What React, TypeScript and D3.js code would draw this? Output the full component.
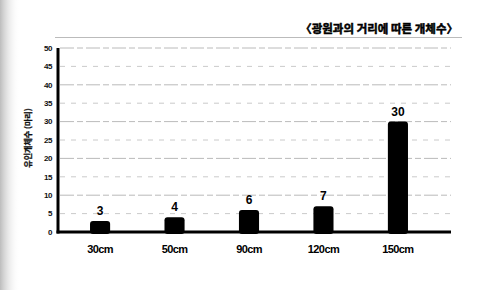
import * as d3 from "d3";

const CATEGORIES = ["30cm", "50cm", "90cm", "120cm", "150cm"];
const COUNTS = [3, 4, 6, 7, 30];
const Y_TICKS = [0, 5, 10, 15, 20, 25, 30, 35, 40, 45, 50];
const TITLE = "〈광원과의 거리에 따른 개체수〉";
const Y_LABEL = "유인개체수 (마리)";

const WIDTH = 502;
const HEIGHT = 290;
const MARGIN = { top: 48, right: 51, bottom: 58, left: 58 };

const FONT = "'Liberation Sans', Arial, sans-serif";

export default function App() {
  const boundsWidth = WIDTH - MARGIN.left - MARGIN.right;
  const boundsHeight = HEIGHT - MARGIN.top - MARGIN.bottom;

  // bars end a bit before the axis does
  const xScale = d3
    .scaleBand<string>()
    .domain(CATEGORIES)
    .range([0, 382])
    .paddingInner(0.73)
    .paddingOuter(0.43);

  const yScale = d3.scaleLinear().domain([0, 50]).range([boundsHeight, 0]);

  return (
    <svg
      width={WIDTH}
      height={HEIGHT}
      style={{ position: "absolute", left: 0, top: 0, background: "#fff" }}
    >
      <defs>
        <linearGradient id="edge" x1="0" x2="1">
          <stop offset="0" stopColor="#a0a0a0" stopOpacity={0.7} />
          <stop offset="1" stopColor="#ffffff" stopOpacity={0} />
        </linearGradient>
      </defs>
      <rect x={0} y={0} width={20} height={HEIGHT} fill="url(#edge)" />

      {/* title, stroked a little since the CJK font has no heavy face here */}
      <text
        x={458}
        y={33}
        textAnchor="end"
        fontFamily="'Noto Sans CJK KR', sans-serif"
        fontWeight={700}
        fontSize={11.5}
        fill="#000"
        stroke="#000"
        strokeWidth={0.5}
      >
        {TITLE}
      </text>
      <line x1={55} x2={462} y1={37.5} y2={37.5} stroke="#aaa" strokeWidth={0.8} />

      {/* y label */}
      <text
        transform="translate(31, 138) rotate(-90)"
        textAnchor="middle"
        fontFamily="'Noto Sans CJK KR', sans-serif"
        fontWeight={700}
        fontSize={8}
        fill="#111"
        stroke="#111"
        strokeWidth={0.3}
      >
        {Y_LABEL}
      </text>

      <g transform={`translate(${MARGIN.left}, ${MARGIN.top})`}>
        {/* grid */}
        {Y_TICKS.filter((t) => t > 0).map((t) => (
          <line
            key={t}
            x1={2}
            x2={boundsWidth}
            y1={yScale(t)}
            y2={yScale(t)}
            stroke={t % 10 === 0 ? "#a8a8a8" : "#bdbdbd"}
            strokeWidth={0.8}
            strokeDasharray={t % 10 === 0 ? "14 3 6 3" : "5 6"}
          />
        ))}

        {/* y tick labels */}
        {Y_TICKS.map((t) => (
          <text
            key={t}
            x={-6}
            y={yScale(t)}
            dy="0.35em"
            textAnchor="end"
            fontFamily={FONT}
            fontWeight={700}
            fontSize={8}
            letterSpacing={-0.4}
            fill="#111"
          >
            {t}
          </text>
        ))}

        {/* bars */}
        {CATEGORIES.map((c, i) => {
          const x = xScale(c) ?? 0;
          const y = yScale(COUNTS[i]);
          return (
            <g key={c}>
              <rect
                x={x}
                y={y}
                width={xScale.bandwidth()}
                height={boundsHeight - y + 2}
                rx={3}
                fill="#000"
              />
              <text
                x={x + xScale.bandwidth() / 2}
                y={y - 6}
                textAnchor="middle"
                fontFamily={FONT}
                fontWeight={700}
                fontSize={12}
                fill="#000"
              >
                {COUNTS[i]}
              </text>
              <text
                x={x + xScale.bandwidth() / 2}
                y={boundsHeight + 21}
                textAnchor="middle"
                fontFamily={FONT}
                fontWeight={700}
                fontSize={11}
                letterSpacing={-0.6}
                fill="#000"
              >
                {c}
              </text>
            </g>
          );
        })}

        {/* axes */}
        <line x1={0} x2={0} y1={0} y2={boundsHeight + 1.5} stroke="#000" strokeWidth={3} />
        <line
          x1={-1.5}
          x2={boundsWidth}
          y1={boundsHeight}
          y2={boundsHeight}
          stroke="#000"
          strokeWidth={3}
        />
      </g>
    </svg>
  );
}
